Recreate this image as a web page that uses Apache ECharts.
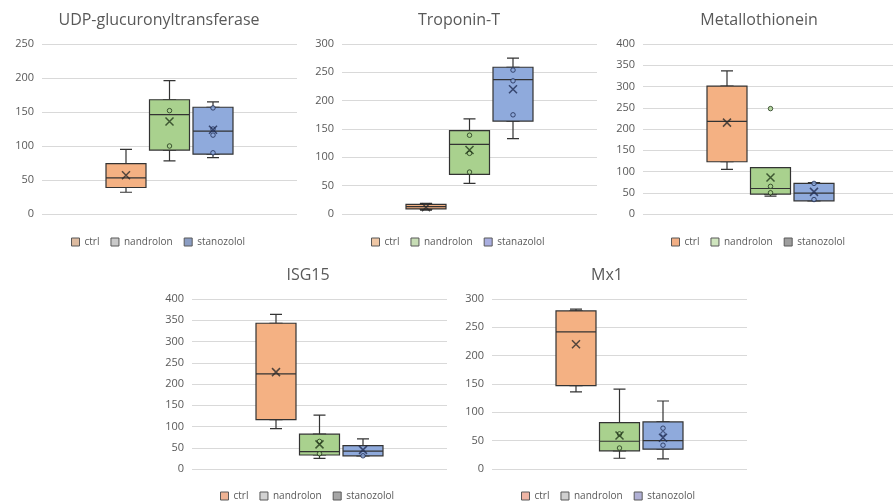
<!DOCTYPE html>
<html>
<head>
<meta charset="utf-8">
<script src="https://cdn.jsdelivr.net/npm/echarts@6/dist/echarts.min.js"></script>
<style>
  html, body { margin: 0; padding: 0; background: #fff; }
  #chart { width: 893px; height: 502px; }
</style>
</head>
<body>
<div id="chart"></div>
<script>
// Groups and panel titles
const GROUPS = ['ctrl', 'nandrolon', 'stanozolol'];
const PANEL_TITLES = ['UDP-glucuronyltransferase', 'Troponin-T', 'Metallothionein', 'ISG15', 'Mx1'];
const LEGEND_LABELS = [
  ['ctrl', 'nandrolon', 'stanozolol'],
  ['ctrl', 'nandrolon', 'stanazolol'],
  ['ctrl', 'nandrolon', 'stanozolol'],
  ['ctrl', 'nandrolon', 'stanozolol'],
  ['ctrl', 'nandrolon', 'stanozolol']
];
const Y_MAX = [250, 300, 400, 400, 300];
const Y_STEP = 50;

// Five-number summaries [min, Q1, median, Q3, max] for ctrl, nandrolon, stanozolol
const udpBox = [[32, 39, 53, 74, 95], [78, 94, 146, 168, 196], [83, 88, 122, 157, 165]];
const udpMean = [57, 136, 124];
const udpPoints = [[], [152, 100], [156, 125, 116, 90]];

const tnntBox = [[7, 9, 13, 17, 19], [54, 70, 123, 147, 168], [133, 164, 237, 259, 275]];
const tnntMean = [12, 113, 220];
const tnntPoints = [[], [139, 107, 74], [254, 235, 175]];

const mtBox = [[105, 123, 218, 301, 337], [42, 47, 60, 109, 109], [31, 31, 49, 72, 74]];
const mtMean = [215, 86, 52];
const mtPoints = [[], [248, 65, 50], [72, 34]];

const isgBox = [[95, 116, 224, 343, 364], [25, 33, 41, 82, 127], [31, 31, 42, 55, 71]];
const isgMean = [228, 58, 45];
const isgPoints = [[], [65, 36], [31]];

const mxBox = [[136, 147, 242, 279, 282], [19, 32, 49, 82, 141], [18, 35, 50, 83, 120]];
const mxMean = [220, 59, 55];
const mxPoints = [[], [62, 37], [72, 62, 42]];

const BOXES = [udpBox, tnntBox, mtBox, isgBox, mxBox];
const MEANS = [udpMean, tnntMean, mtMean, isgMean, mxMean];
const POINTS = [udpPoints, tnntPoints, mtPoints, isgPoints, mxPoints];

// Styling
const BOX_FILL = ['#F4B183', '#A9D18E', '#8FAADC'];
const MARK_DARK = ['#2b2b2b', '#22381a', '#1f2c52'];
const LEGEND_FILL = [
  ['#DDBBA0', '#C9C9C9', '#8B9DC3'],
  ['#EFC7A5', '#C7DDB5', '#A9AEE0'],
  ['#F2AF85', '#CFE5BE', '#9E9E9E'],
  ['#EFB394', '#D2D2D2', '#A6A6A6'],
  ['#EFB5A5', '#D0D0D0', '#B1B1D6']
];
const TEXT = '#595959';
const FONT = '"Open Sans", "Noto Sans", sans-serif';

// Panel placement: plot rect, title anchor, legend anchor
const LAYOUT = [
  { left: 42,  top: 44,  titleX: 159, titleY: 12,  legendX: 71,  legendY: 237 },
  { left: 342, top: 44,  titleX: 459, titleY: 12,  legendX: 371, legendY: 237 },
  { left: 643, top: 44,  titleX: 759, titleY: 12,  legendX: 671, legendY: 237 },
  { left: 192, top: 299, titleX: 308, titleY: 267, legendX: 220, legendY: 491 },
  { left: 492, top: 299, titleX: 607, titleY: 267, legendX: 521, legendY: 491 }
];
const PLOT_W = 255, PLOT_H = 170;
const SLOT_W = 43.5, BOX_W = 40, CAP_W = 12;

const xMark = 'path://M0,0L10,10M10,0L0,10';

const grid = [], xAxis = [], yAxis = [], series = [], title = [], legend = [];

// one hidden single-category cartesian per box so each boxplot is centred in its slot
function addSlot(left, top, label, yMax) {
  const k = grid.length;
  grid.push({ left: left, top: top, width: SLOT_W, height: PLOT_H, containLabel: false });
  xAxis.push({ gridIndex: k, type: 'category', data: [label], show: false });
  yAxis.push({ gridIndex: k, type: 'value', min: 0, max: yMax, show: false, splitLine: { show: false } });
  return k;
}

PANEL_TITLES.forEach((name, p) => {
  const L = LAYOUT[p];
  title.push({
    text: name, left: L.titleX, top: L.titleY, textAlign: 'center', textVerticalAlign: 'top', padding: 0,
    textStyle: { fontFamily: FONT, fontSize: 16, fontWeight: 'normal', color: TEXT }
  });
  legend.push({
    left: L.legendX, top: L.legendY, padding: 0, itemGap: 11, itemWidth: 8, itemHeight: 8, icon: 'rect',
    selectedMode: false,
    textStyle: { fontFamily: FONT, fontSize: 10, color: TEXT },
    data: LEGEND_LABELS[p].map((lbl, g) => ({
      name: lbl,
      itemStyle: { color: LEGEND_FILL[p][g], borderColor: '#595959', borderWidth: 1, opacity: 1 }
    }))
  });

  // background plot with value axis and gridlines
  const bg = grid.length;
  grid.push({ left: L.left, top: L.top, width: PLOT_W, height: PLOT_H, containLabel: false });
  xAxis.push({ gridIndex: bg, type: 'category', data: [''], show: false });
  yAxis.push({
    gridIndex: bg, type: 'value', min: 0, max: Y_MAX[p], interval: Y_STEP,
    axisLine: { show: false }, axisTick: { show: false },
    axisLabel: { color: TEXT, fontFamily: FONT, fontSize: 11, margin: 8 },
    splitLine: { lineStyle: { color: '#D9D9D9', width: 1 } }
  });

  GROUPS.forEach((grp, g) => {
    const cx = L.left + PLOT_W / 2 + (g - 1) * SLOT_W;
    const slotLeft = cx - SLOT_W / 2;
    const kw = addSlot(slotLeft, L.top, grp, Y_MAX[p]);   // whiskers
    const kb = addSlot(slotLeft, L.top, grp, Y_MAX[p]);   // box body + marks

    const b = BOXES[p][g];
    const sName = LEGEND_LABELS[p][g];
    const base = { name: sName, silent: true, emphasis: { disabled: true } };
    const boxStyle = { color: BOX_FILL[g], borderColor: '#333333', borderWidth: 1.2 };

    // whiskers with narrow caps
    series.push(Object.assign({}, base, {
      type: 'boxplot', xAxisIndex: kw, yAxisIndex: kw, z: 2, boxWidth: [CAP_W, CAP_W],
      itemStyle: boxStyle, data: [b]
    }));
    // box body Q1..Q3 with median
    series.push(Object.assign({}, base, {
      type: 'boxplot', xAxisIndex: kb, yAxisIndex: kb, z: 3, boxWidth: [BOX_W, BOX_W],
      itemStyle: boxStyle, data: [[b[1], b[1], b[2], b[3], b[3]]]
    }));
    // mean marker
    series.push(Object.assign({}, base, {
      type: 'scatter', xAxisIndex: kb, yAxisIndex: kb, z: 5, symbol: xMark, symbolSize: 8,
      itemStyle: { color: 'rgba(0,0,0,0)', borderColor: MARK_DARK[g], borderWidth: 1.5 },
      data: [[0, MEANS[p][g]]]
    }));
    // individual points
    series.push(Object.assign({}, base, {
      type: 'scatter', xAxisIndex: kb, yAxisIndex: kb, z: 4, symbol: 'circle', symbolSize: 4.5,
      itemStyle: { color: BOX_FILL[g], borderColor: MARK_DARK[g], borderWidth: 1 },
      data: POINTS[p][g].map(v => [0, v])
    }));
  });
});

const chart = echarts.init(document.getElementById('chart'), null, { renderer: 'canvas' });
chart.setOption({
  backgroundColor: '#ffffff',
  animation: false,
  title, legend, grid, xAxis, yAxis, series
});
</script>
</body>
</html>
